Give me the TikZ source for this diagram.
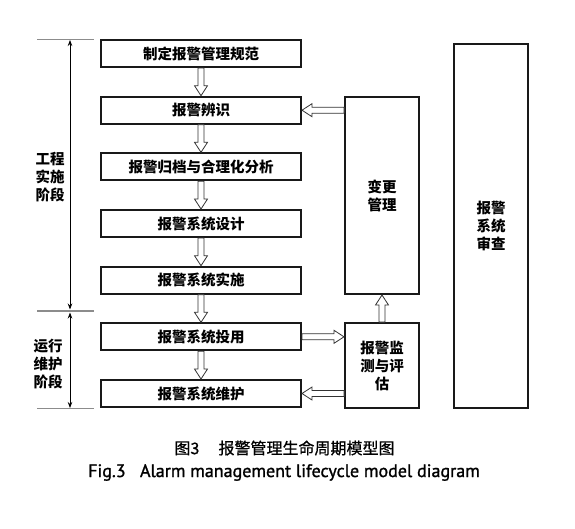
\documentclass[tikz,border=0pt]{standalone}
\usepackage{fontspec}
\setmainfont{Noto Sans CJK SC}
\newfontfamily\capfont[FakeBold=1.3]{PT Sans}
\newfontfamily\capcjk[FakeBold=0.8]{Noto Sans CJK SC}
\usetikzlibrary{arrows.meta,calc}
\tikzset{
  stagebox/.style={draw=black!90, line width=2pt, minimum width=200pt, minimum height=27pt, inner sep=0pt,
    font=\fontsize{14.5}{18}\selectfont\bfseries},
  sidebox/.style={draw=black!90, line width=2pt, minimum width=74pt, inner sep=0pt, align=center,
    font=\fontsize{14.5}{18}\selectfont\bfseries},
  sidelabel/.style={align=center, inner sep=0pt, font=\fontsize{14.5}{18}\selectfont\bfseries},
  tickline/.style={draw=black!45, line width=1.2pt},
  spanarrow/.style={draw=black, line width=0.8pt, {Stealth[length=6pt,width=4.5pt]}-{Stealth[length=6pt,width=4.5pt]}},
  hollow/.style={draw=black!80, line width=0.8pt, fill=white, to path={
    let \p1=(\tikztostart), \p2=(\tikztotarget),
        \n1={atan2(\y2-\y1,\x2-\x1)}, \n2={veclen(\x2-\x1,\y2-\y1)} in
    [shift={(\p1)}, rotate=\n1]
    (0pt,-3pt) -- ({\n2*1pt-10pt},-3pt) -- ({\n2*1pt-10pt},-6.5pt) -- ({\n2*1pt},0pt)
    -- ({\n2*1pt-10pt},6.5pt) -- ({\n2*1pt-10pt},3pt) -- (0pt,3pt) -- cycle}}
}
\begin{document}
\begin{tikzpicture}[x=1pt,y=-1pt]
\useasboundingbox (0,0) rectangle (575,528);
% stage boxes
\node[stagebox] (b1) at (201,53.5)  {制定报警管理规范};
\node[stagebox] (b2) at (201,110.2) {报警辨识};
\node[stagebox] (b3) at (201,166.8) {报警归档与合理化分析};
\node[stagebox] (b4) at (201,223.5) {报警系统设计};
\node[stagebox] (b5) at (201,280.2) {报警系统实施};
\node[stagebox] (b6) at (201,336.8) {报警系统投用};
\node[stagebox] (b7) at (201,393.5) {报警系统维护};
% right boxes
\node[sidebox, minimum height=197pt] (cm)  at (382,195.5) {变更\\管理};
\node[sidebox, minimum height=85pt]  (mon) at (382,365.5) {报警监\\测与评\\估};
\node[sidebox, minimum height=364pt] (rev) at (491,226)   {报警\\系统\\审查};
% block arrows
\draw[hollow] (b1.south) to (b2.north);
\draw[hollow] (b2.south) to (b3.north);
\draw[hollow] (b3.south) to (b4.north);
\draw[hollow] (b4.south) to (b5.north);
\draw[hollow] (b5.south) to (b6.north);
\draw[hollow] (b6.south) to (b7.north);
\draw[hollow] (cm.west |- b2.east) to (b2.east);
\draw[hollow] (b6.east) to (mon.west |- b6.east);
\draw[hollow] (mon.west |- b7.east) to (b7.east);
\draw[hollow] (mon.north) to (cm.south);
% phase brackets
\coordinate (t1a) at (37,39.5);  \coordinate (t1b) at (94,39.5);
\coordinate (t2a) at (37,311);   \coordinate (t2b) at (94,311);
\coordinate (t3a) at (37,408.5); \coordinate (t3b) at (94,408.5);
\coordinate (v1) at (70,40);  \coordinate (v2) at (70,309.5);
\coordinate (v3) at (70,312.5); \coordinate (v4) at (70,408);
\draw[tickline] (t1a) -- (t1b);
\draw[tickline] (t2a) -- (t2b);
\draw[tickline] (t3a) -- (t3b);
\draw[spanarrow] (v1) -- (v2);
\draw[spanarrow] (v3) -- (v4);
\node[sidelabel] (ph1) at (50,177) {工程\\实施\\阶段};
\node[sidelabel] (ph2) at (48,364.5) {运行\\维护\\阶段};
% captions
\node[inner sep=0pt, font=\capcjk\fontsize{16}{18}\selectfont] (cap1) at (284.5,448) {图3\hspace{1.2em}报警管理生命周期模型图};
\node[inner sep=0pt, anchor=base, font=\capfont\fontsize{18}{20}\selectfont] (cap2) at (284,477) {Fig.3\hspace{0.8em}Alarm management lifecycle model diagram};
\end{tikzpicture}
\end{document}
